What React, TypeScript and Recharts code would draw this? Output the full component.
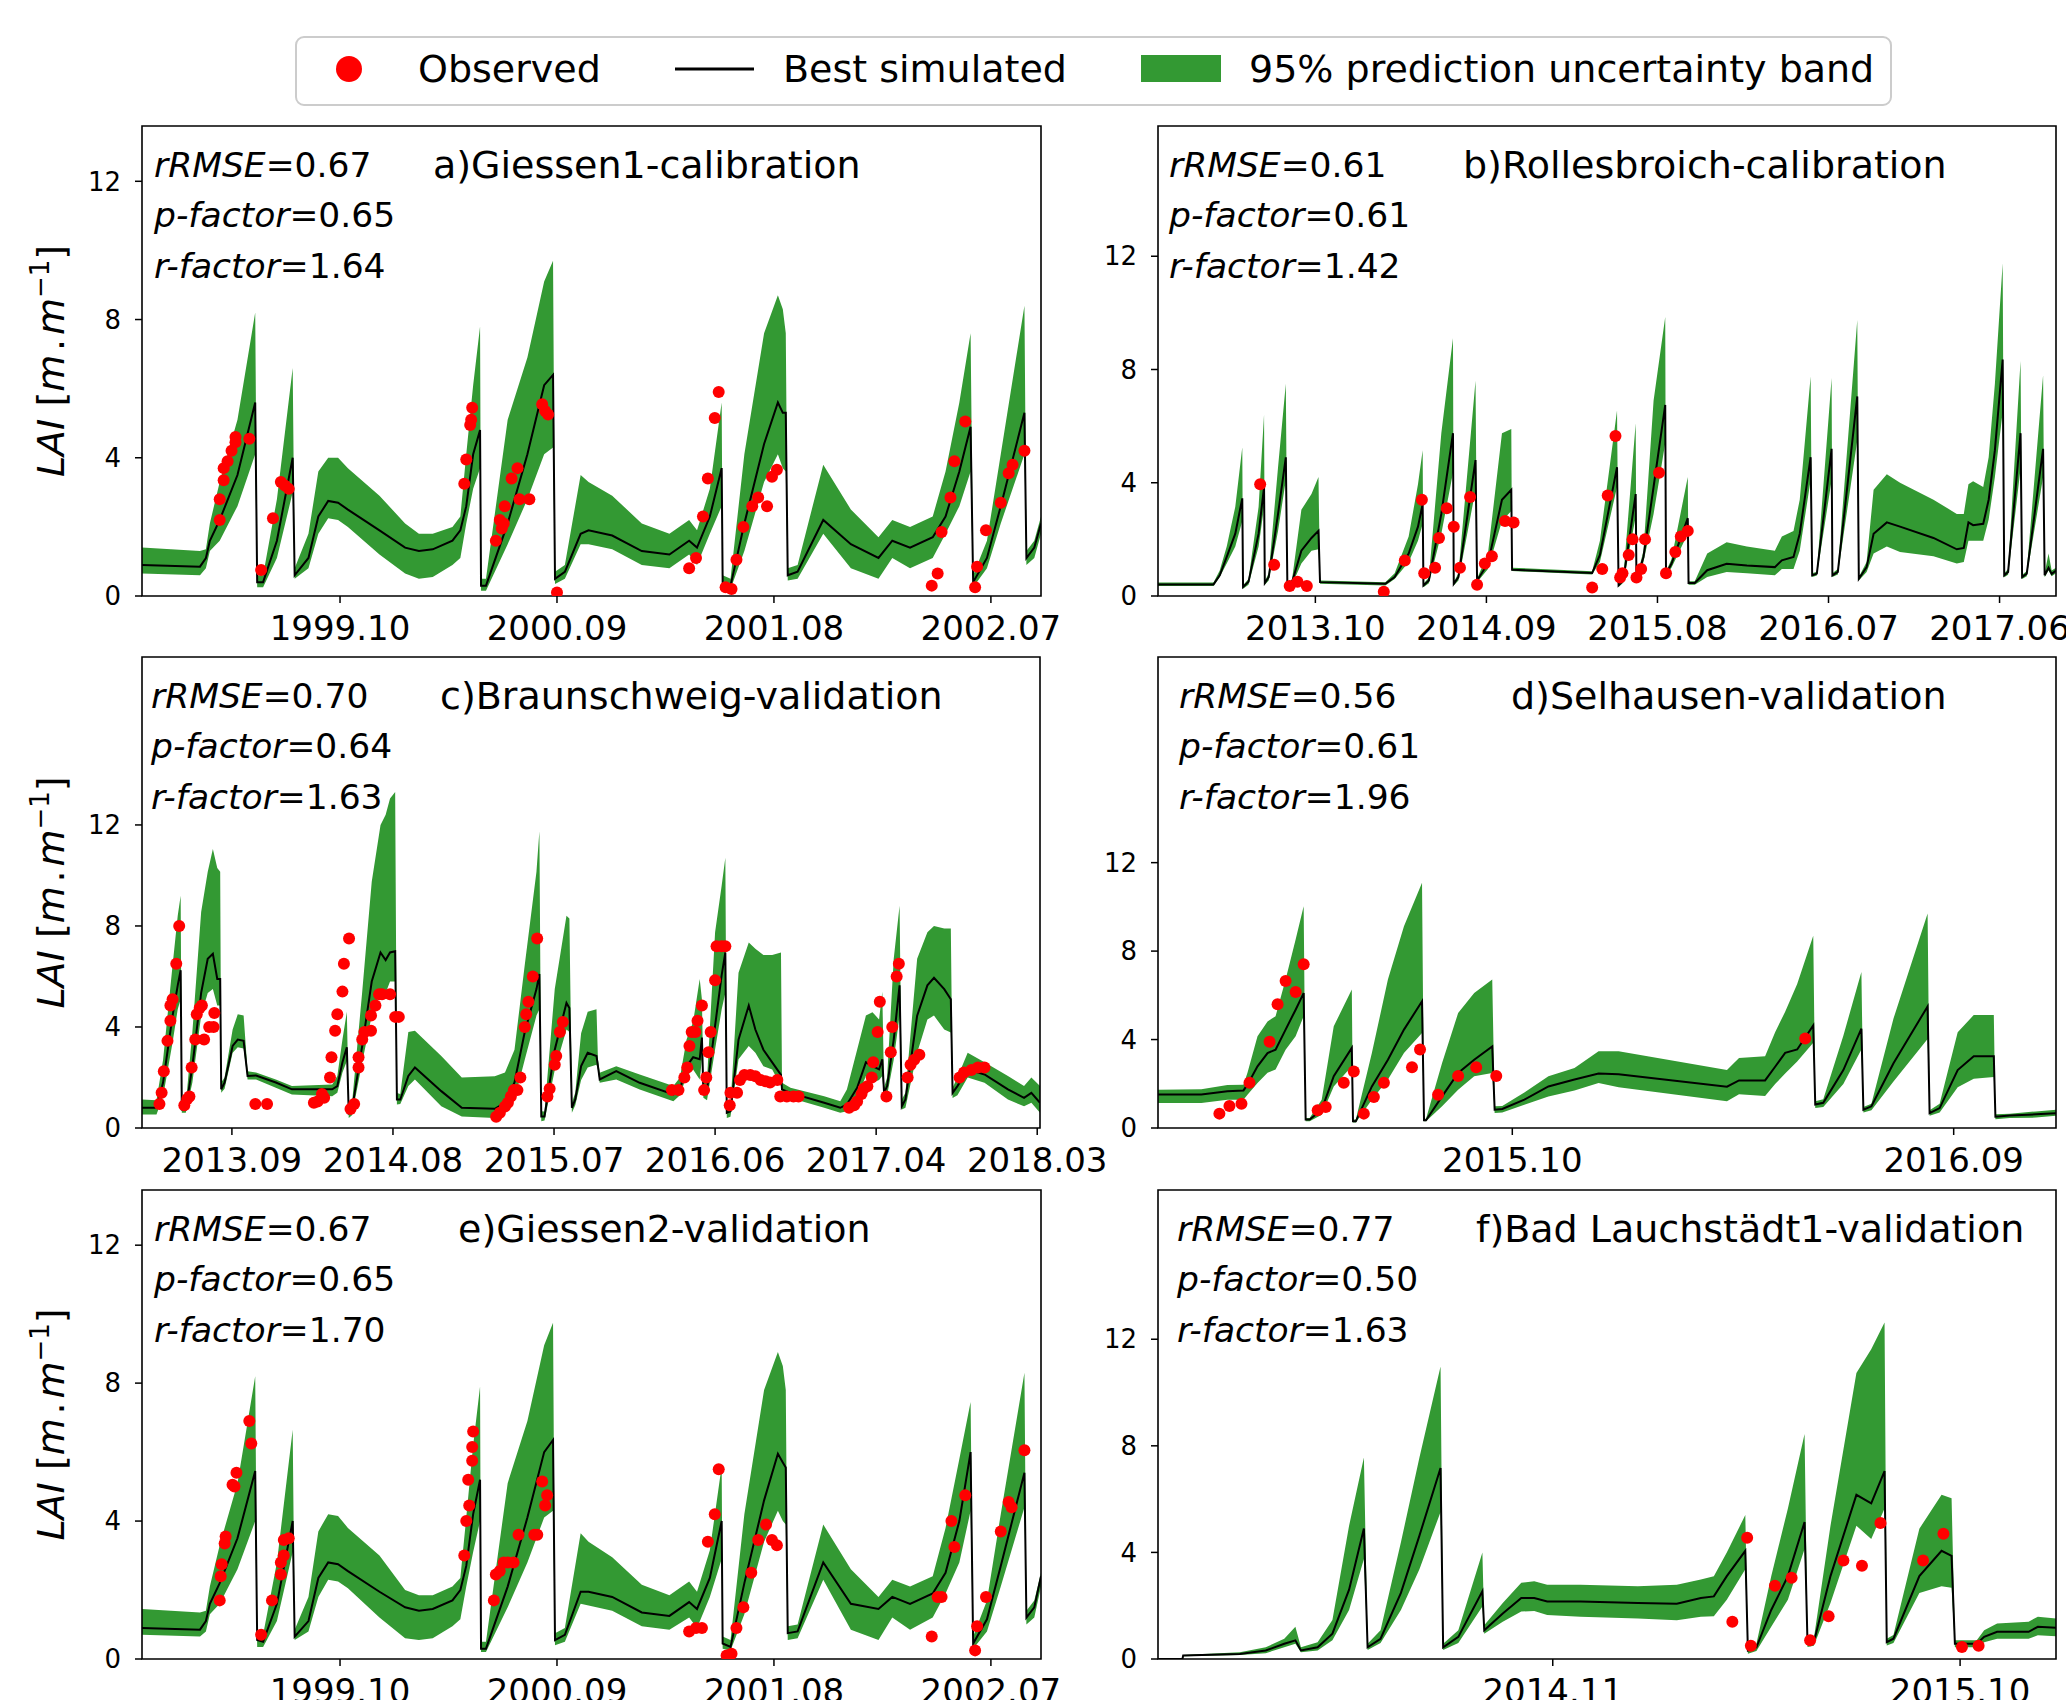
import React from "react";
import { ComposedChart, Area, Line, Scatter, XAxis, YAxis, ReferenceArea } from "recharts";

const FONT = "DejaVu Sans, Verdana, sans-serif";
const GREEN = "#339933";

// rows: [t (months since base), lower 95%, best simulated, upper 95%]
type Row = [number, number, number, number];
type Obs = [number, number];

// a) Giessen1 calibration, t = months since 1999-01
const simA: Row[] = [
  [-1.04, 0.65, 0.9, 1.4], [1.9, 0.6, 0.85, 1.3], [2.2, 0.8, 1.1, 1.35], [2.4, 1.3, 1.6, 2.1],
  [2.9, 1.6, 2.2, 3.3], [3.8, 2.6, 3.5, 5.1], [4.7, 4.1, 5.6, 8.2], [4.8, 0.25, 0.4, 0.6],
  [5.1, 0.25, 0.4, 0.6], [5.8, 1.1, 1.6, 2.8], [6.6, 3.0, 4.0, 6.6], [6.7, 0.5, 0.6, 0.8],
  [7.4, 0.8, 1.1, 1.8], [7.9, 1.8, 2.3, 3.6], [8.4, 2.25, 2.75, 4.0], [8.9, 2.2, 2.7, 4.0],
  [9.4, 2.0, 2.5, 3.7], [11.0, 1.2, 1.9, 2.9], [12.3, 0.65, 1.4, 2.1], [13.0, 0.5, 1.3, 1.8],
  [13.7, 0.55, 1.35, 1.8], [14.7, 0.9, 1.6, 2.0], [15.1, 1.1, 1.9, 2.3], [15.4, 2.1, 2.6, 4.1],
  [15.75, 3.1, 4.1, 6.1], [16.1, 3.7, 4.8, 7.8], [16.15, 0.15, 0.3, 0.5], [16.4, 0.15, 0.3, 0.5],
  [17.5, 1.5, 2.1, 5.1], [18.5, 2.8, 4.1, 6.9], [19.35, 4.1, 6.1, 9.1], [19.8, 4.3, 6.4, 9.7],
  [19.9, 0.35, 0.5, 0.7], [20.4, 0.5, 0.7, 0.9], [21.2, 1.5, 1.8, 3.5], [21.6, 1.5, 1.9, 3.3],
  [22.8, 1.35, 1.75, 2.9], [24.3, 0.9, 1.3, 2.1], [25.7, 0.8, 1.2, 1.8], [26.7, 1.2, 1.6, 2.2],
  [27.1, 0.9, 1.4, 1.9], [27.75, 1.8, 2.3, 3.1], [28.35, 2.6, 3.7, 5.6], [28.4, 0.2, 0.4, 0.6],
  [28.8, 0.2, 0.3, 0.5], [29.5, 1.3, 2.1, 4.1], [30.5, 3.3, 4.4, 7.6], [31.2, 4.1, 5.6, 8.7],
  [31.45, 3.7, 5.3, 8.3], [31.6, 3.6, 5.3, 7.6], [31.7, 0.45, 0.6, 0.8], [32.2, 0.5, 0.7, 0.9],
  [33.5, 1.8, 2.2, 3.8], [34.9, 0.8, 1.5, 2.5], [36.3, 0.5, 1.1, 1.7], [37.0, 1.1, 1.6, 2.2],
  [37.9, 0.8, 1.4, 2.0], [39.05, 1.1, 1.7, 2.3], [39.7, 1.8, 2.3, 3.6], [40.4, 2.6, 3.6, 5.6],
  [40.97, 3.6, 4.9, 7.6], [41.1, 0.25, 0.4, 0.6], [41.8, 0.8, 1.1, 1.6], [42.5, 2.1, 2.6, 4.1],
  [43.7, 4.1, 5.3, 8.4], [43.8, 0.9, 1.1, 1.3], [44.2, 1.1, 1.4, 1.6], [44.54, 1.8, 2.1, 2.3],
];
const obsA: Obs[] = [
  [2.9, 2.2], [2.9, 2.8], [3.1, 3.35], [3.1, 3.7], [3.3, 3.9], [3.5, 4.2], [3.7, 4.45], [3.7, 4.6],
  [4.4, 4.55], [5.0, 0.75], [5.6, 2.25], [6.0, 3.3], [6.2, 3.2], [6.4, 3.1],
  [15.3, 3.25], [15.4, 3.95], [15.6, 4.95], [15.65, 5.1], [15.7, 5.45], [16.9, 1.6], [17.1, 2.2],
  [17.2, 1.95], [17.3, 2.1], [17.35, 2.6], [17.7, 3.4], [18.0, 3.7], [18.1, 2.8], [18.6, 2.8],
  [19.25, 5.55], [19.4, 5.35], [19.55, 5.25], [20.0, 0.1],
  [26.7, 0.8], [27.05, 1.1], [27.4, 2.3], [27.65, 3.4], [28.0, 5.15], [28.2, 5.9], [28.55, 0.25],
  [28.85, 0.2], [29.1, 1.05], [29.45, 2.0], [29.9, 2.6], [30.2, 2.85], [30.65, 2.6], [30.9, 3.45], [31.15, 3.65],
  [39.0, 0.3], [39.3, 0.65], [39.5, 1.85], [39.95, 2.85], [40.15, 3.9], [40.7, 5.05], [41.2, 0.25],
  [41.3, 0.85], [41.75, 1.9], [42.5, 2.7], [42.9, 3.55], [43.1, 3.8], [43.7, 4.2],
];
const ticksA = [9, 20, 31, 42];
const labelsA = ["1999.10", "2000.09", "2001.08", "2002.07"];

// b) Rollesbroich calibration, t = months since 2013-01
const simB: Row[] = [
  [-1.12, 0.35, 0.41, 0.48], [2.45, 0.35, 0.41, 0.48], [2.85, 0.67, 0.73, 0.9], [3.3, 1.15, 1.38, 1.75],
  [3.85, 1.75, 2.2, 3.15], [4.3, 2.65, 3.45, 5.25], [4.35, 0.26, 0.32, 0.38], [4.7, 0.4, 0.5, 0.6],
  [5.35, 1.75, 2.2, 3.15], [5.7, 3.15, 3.85, 6.4], [5.75, 0.4, 0.46, 0.52], [6.0, 0.55, 0.67, 0.8],
  [6.6, 2.3, 2.9, 4.55], [7.1, 4.1, 4.9, 7.5], [7.2, 0.32, 0.38, 0.44], [7.5, 0.4, 0.49, 0.58],
  [8.1, 1.15, 1.6, 3.05], [8.75, 1.6, 2.05, 3.6], [9.2, 1.65, 2.3, 4.2], [9.3, 0.43, 0.49, 0.55],
  [13.5, 0.37, 0.43, 0.49], [14.1, 0.6, 0.67, 0.8], [15.0, 1.2, 1.5, 2.1], [15.6, 1.95, 2.45, 3.95],
  [15.9, 2.55, 3.25, 5.15], [15.95, 0.31, 0.37, 0.43], [16.3, 0.45, 0.55, 0.65], [17.1, 2.2, 2.9, 5.75],
  [17.85, 4.35, 5.75, 9.1], [17.9, 0.37, 0.43, 0.49], [18.2, 0.55, 0.67, 0.8], [19.3, 3.75, 4.8, 7.6],
  [19.4, 0.49, 0.55, 0.62], [20.1, 0.95, 1.15, 1.5], [21.0, 2.65, 3.4, 5.75], [21.6, 3.0, 3.75, 5.9],
  [21.65, 0.88, 0.93, 1.0], [26.8, 0.76, 0.81, 0.87], [27.3, 1.2, 1.45, 1.95], [28.4, 3.85, 4.55, 6.55],
  [28.5, 0.32, 0.38, 0.44], [28.8, 0.47, 0.55, 0.63], [29.6, 2.8, 3.6, 6.1], [29.65, 0.49, 0.55, 0.61],
  [30.1, 1.2, 1.38, 1.6], [30.75, 2.9, 3.85, 6.9], [31.5, 5.4, 6.75, 9.85], [31.55, 0.72, 0.79, 0.86],
  [31.9, 1.0, 1.14, 1.3], [32.95, 2.2, 2.75, 4.2], [33.0, 0.4, 0.46, 0.52], [33.4, 0.4, 0.46, 0.52],
  [34.2, 0.67, 0.91, 1.5], [35.45, 0.85, 1.14, 1.9], [36.75, 0.8, 1.08, 1.75], [38.55, 0.73, 1.02, 1.6],
  [39.0, 0.95, 1.26, 2.1], [39.75, 0.95, 1.38, 2.3], [40.15, 1.6, 2.2, 3.4], [40.85, 4.1, 4.9, 7.75],
  [40.95, 0.67, 0.73, 0.8], [41.25, 0.72, 0.79, 0.86], [42.2, 4.1, 5.2, 7.7], [42.25, 0.67, 0.73, 0.8],
  [42.6, 0.76, 0.85, 0.95], [43.85, 5.5, 7.05, 9.75], [43.95, 0.55, 0.61, 0.67], [44.45, 0.85, 1.02, 1.2],
  [44.9, 1.5, 2.2, 3.75], [45.75, 1.75, 2.6, 4.3], [46.6, 1.55, 2.45, 4.0], [48.75, 1.4, 2.05, 3.4],
  [50.25, 1.15, 1.65, 2.9], [50.7, 1.2, 1.7, 2.9], [51.0, 1.95, 2.6, 3.95], [51.3, 1.95, 2.5, 4.05],
  [51.95, 1.95, 2.55, 3.85], [52.3, 2.7, 3.4, 4.9], [52.7, 4.2, 5.15, 7.5], [53.2, 6.5, 8.35, 11.75],
  [53.3, 0.66, 0.73, 0.8], [53.55, 0.75, 0.85, 0.95], [54.35, 4.5, 5.75, 8.3], [54.45, 0.6, 0.67, 0.74],
  [54.75, 0.7, 0.79, 0.88], [55.8, 4.2, 5.2, 7.8], [55.9, 0.66, 0.73, 0.8], [56.15, 0.9, 1.0, 1.5],
  [56.35, 0.7, 0.78, 0.9], [56.63, 0.8, 0.9, 1.0],
];
const obsB: Obs[] = [
  [5.45, 3.95], [6.35, 1.1], [7.35, 0.35], [7.85, 0.5], [8.45, 0.35], [13.4, 0.15], [14.75, 1.25],
  [15.85, 3.4], [16.0, 0.8], [16.7, 1.0], [16.95, 2.05], [17.45, 3.1], [17.9, 2.45], [18.3, 1.0],
  [18.95, 3.5], [19.4, 0.4], [19.9, 1.15], [20.35, 1.4], [21.2, 2.65], [21.75, 2.6], [26.8, 0.3],
  [27.45, 0.95], [27.8, 3.55], [28.3, 5.65], [28.6, 0.65], [28.75, 0.8], [29.15, 1.45], [29.4, 2.0],
  [29.65, 0.65], [29.95, 0.95], [30.2, 2.0], [31.1, 4.35], [31.55, 0.8], [32.15, 1.55], [32.5, 2.1], [32.95, 2.3],
];
const ticksB = [9, 20, 31, 42, 53];
const labelsB = ["2013.10", "2014.09", "2015.08", "2016.07", "2017.06"];

// c) Braunschweig validation, t = months since 2013-01
const simC: Row[] = [
  [1.86, 0.53, 0.8, 1.13], [2.85, 0.53, 0.8, 1.1], [3.3, 1.25, 1.8, 2.7], [3.95, 3.4, 4.45, 6.45],
  [4.3, 4.7, 5.65, 8.4], [4.5, 5.1, 6.25, 9.2], [4.58, 0.6, 0.73, 0.93], [4.85, 0.6, 0.73, 0.93],
  [5.3, 1.8, 2.45, 3.8], [5.9, 4.45, 5.35, 8.55], [6.35, 5.35, 6.7, 10.15], [6.7, 5.5, 6.9, 11.05],
  [7.0, 4.85, 5.9, 10.3], [7.2, 4.85, 5.9, 10.15], [7.27, 1.4, 1.53, 1.8], [7.5, 1.55, 1.8, 2.0],
  [8.05, 2.98, 3.25, 3.9], [8.4, 3.2, 3.5, 4.5], [8.8, 3.15, 3.45, 4.45], [9.07, 1.92, 2.06, 2.25],
  [9.65, 1.92, 2.08, 2.2], [11.0, 1.59, 1.8, 1.92], [12.1, 1.33, 1.53, 1.66], [14.85, 1.26, 1.53, 1.72],
  [15.2, 1.4, 1.66, 2.06], [15.55, 2.2, 2.6, 3.5], [15.85, 2.65, 3.2, 4.6], [15.98, 0.4, 0.6, 0.8],
  [16.2, 0.5, 0.73, 0.95], [16.9, 2.6, 3.25, 5.4], [17.55, 4.45, 5.8, 9.75], [18.15, 5.5, 6.95, 12.0],
  [18.5, 5.35, 6.65, 12.4], [18.8, 5.8, 6.95, 13.05], [19.15, 5.8, 7.0, 13.3], [19.27, 0.93, 1.13, 1.39],
  [19.5, 0.95, 1.13, 1.35], [20.05, 1.66, 2.06, 3.8], [20.5, 1.92, 2.4, 3.85], [22.3, 0.86, 1.46, 2.85],
  [23.7, 0.46, 0.8, 2.0], [25.95, 0.4, 0.76, 2.05], [26.65, 0.6, 1.0, 2.2], [27.3, 1.12, 1.8, 3.1],
  [28.0, 2.7, 3.8, 6.45], [28.8, 4.45, 5.5, 10.15], [29.0, 4.7, 6.1, 11.75], [29.13, 0.27, 0.46, 0.66],
  [29.35, 0.3, 0.46, 0.65], [30.05, 2.3, 3.1, 5.5], [30.85, 3.9, 4.95, 8.4], [31.05, 3.8, 4.75, 8.3],
  [31.22, 0.6, 0.8, 1.0], [31.45, 0.9, 1.13, 1.4], [31.85, 1.9, 2.45, 3.75], [32.3, 2.4, 2.98, 4.6],
  [32.9, 2.5, 2.85, 4.7], [33.0, 2.3, 2.45, 2.7], [33.12, 1.79, 1.92, 2.19], [34.25, 1.92, 2.25, 2.45],
  [35.85, 1.52, 1.79, 2.12], [38.15, 1.06, 1.33, 1.66], [38.6, 1.3, 1.53, 2.0], [39.05, 2.06, 2.45, 3.5],
  [39.5, 2.32, 2.8, 4.2], [39.95, 1.92, 2.72, 5.9], [40.1, 2.72, 3.58, 5.1], [40.2, 1.2, 1.46, 1.8],
  [40.45, 1.1, 1.53, 1.92], [41.0, 3.12, 4.05, 7.75], [41.45, 4.7, 6.05, 9.6], [41.7, 5.35, 6.95, 10.7],
  [41.8, 0.4, 0.6, 0.8], [42.05, 0.45, 0.66, 0.9], [42.6, 2.72, 3.5, 6.15], [43.3, 3.25, 4.85, 7.35],
  [43.75, 2.98, 3.9, 7.1], [44.3, 2.45, 3.1, 6.85], [44.9, 2.32, 2.6, 6.85], [45.5, 1.66, 2.1, 6.95],
  [45.57, 1.33, 1.53, 1.79], [46.15, 1.19, 1.39, 1.59], [48.45, 0.8, 1.0, 1.26], [49.55, 0.6, 0.8, 1.06],
  [50.0, 0.66, 0.93, 1.52], [50.7, 1.19, 1.59, 3.1], [51.3, 2.06, 2.6, 4.45], [51.75, 1.79, 2.45, 4.58],
  [52.2, 1.9, 2.32, 4.3], [52.42, 2.06, 2.72, 5.4], [52.54, 1.2, 1.39, 1.6], [52.75, 1.3, 1.66, 2.0],
  [53.2, 2.7, 3.5, 6.7], [53.6, 4.45, 5.65, 8.8], [53.75, 0.73, 0.86, 1.13], [54.0, 0.8, 1.13, 1.4],
  [54.8, 2.98, 4.45, 6.7], [55.5, 4.3, 5.65, 7.75], [55.95, 4.45, 5.95, 8.0], [56.65, 3.9, 5.5, 7.9],
  [57.1, 3.78, 5.1, 7.9], [57.22, 1.19, 1.39, 1.59], [57.55, 1.3, 1.66, 2.0], [58.25, 2.0, 2.32, 2.98],
  [59.4, 1.79, 2.12, 2.6], [61.0, 1.13, 1.53, 2.06], [62.1, 0.86, 1.19, 1.66], [62.6, 1.0, 1.39, 2.0],
  [63.19, 0.6, 1.0, 1.66],
];
const obsC: Obs[] = [
  [3.05, 0.95], [3.2, 1.4], [3.35, 2.25], [3.6, 3.45], [3.8, 4.25], [3.8, 4.85], [3.95, 5.1], [4.2, 6.5],
  [4.4, 8.0], [4.75, 0.9], [4.95, 1.15], [5.1, 1.25], [5.25, 2.4], [5.5, 3.5], [5.6, 4.5], [5.8, 4.75],
  [5.95, 4.85], [6.1, 3.5], [6.45, 4.0], [6.75, 4.0], [6.8, 4.55], [9.6, 0.95], [10.4, 0.95],
  [13.6, 1.0], [13.85, 1.05], [14.15, 1.35], [14.3, 1.2], [14.7, 2.0], [14.8, 2.8], [15.05, 3.85],
  [15.2, 4.5], [15.55, 5.4], [15.65, 6.5], [16.0, 7.5], [16.1, 0.75], [16.35, 0.95], [16.65, 2.4],
  [16.65, 2.8], [16.9, 3.5], [17.05, 3.8], [17.5, 3.85], [17.5, 4.45], [17.8, 4.85], [18.05, 5.3],
  [18.25, 5.3], [18.8, 5.3], [19.15, 4.4], [19.4, 4.4],
  [26.05, 0.45], [26.3, 0.6], [26.65, 0.85], [26.85, 1.0], [27.05, 1.25], [27.25, 1.5], [27.5, 1.5],
  [27.7, 2.0], [28.0, 4.0], [28.1, 4.5], [28.25, 5.0], [28.55, 6.0], [28.85, 7.5], [29.55, 1.25],
  [29.7, 1.55], [30.05, 2.5], [30.15, 2.85], [30.4, 3.8], [30.6, 4.2],
  [38.05, 1.5], [38.5, 1.5], [38.9, 2.0], [39.1, 2.4], [39.25, 3.25], [39.4, 3.8], [39.65, 3.8],
  [39.8, 4.25], [40.1, 4.85], [40.25, 1.5], [40.4, 2.0], [40.55, 3.0], [40.7, 3.8], [41.0, 5.85],
  [41.1, 7.2], [41.45, 7.2], [41.7, 7.2], [42.0, 0.9], [42.05, 1.4], [42.5, 1.4], [42.7, 1.9],
  [43.0, 2.1], [43.4, 2.1], [43.75, 2.05], [44.1, 1.9], [44.45, 1.85], [44.75, 1.8], [45.25, 1.9],
  [45.45, 1.25], [45.9, 1.25], [46.35, 1.25], [46.7, 1.25],
  [50.15, 0.8], [50.5, 0.9], [50.7, 1.05], [51.0, 1.35], [51.15, 1.55], [51.4, 1.65], [51.7, 2.0],
  [51.8, 2.6], [52.1, 3.8], [52.25, 5.0], [52.7, 1.25], [53.0, 3.0], [53.1, 4.0], [53.4, 6.0],
  [53.55, 6.5], [54.15, 2.0], [54.35, 2.5], [54.6, 2.7], [54.95, 2.9], [57.7, 2.0], [58.0, 2.2],
  [58.5, 2.3], [58.95, 2.4], [59.4, 2.4],
];
const ticksC = [8, 19, 30, 41, 52, 63];
const labelsC = ["2013.09", "2014.08", "2015.07", "2016.06", "2017.04", "2018.03"];

// d) Selhausen validation, t = months since 2015-01
const simD: Row[] = [
  [0.17, 1.13, 1.51, 1.73], [1.25, 1.13, 1.51, 1.75], [1.9, 1.28, 1.66, 1.95], [2.3, 1.28, 1.7, 1.96],
  [2.4, 1.5, 1.96, 2.5], [2.65, 2.04, 2.79, 4.15], [2.9, 2.5, 3.39, 4.82], [3.1, 2.64, 3.54, 5.05],
  [3.35, 3.54, 4.45, 6.71], [3.6, 4.15, 5.35, 8.52], [3.8, 5.05, 6.1, 10.03], [3.85, 0.3, 0.38, 0.45],
  [3.95, 0.3, 0.38, 0.45], [4.25, 0.6, 0.83, 1.28], [4.55, 1.88, 2.34, 4.6], [5.0, 2.79, 3.62, 6.26],
  [5.03, 0.25, 0.3, 0.38], [5.1, 0.25, 0.3, 0.38], [5.5, 1.28, 1.88, 3.39], [5.9, 2.19, 3.09, 6.71],
  [6.3, 3.39, 4.45, 9.12], [6.75, 4.3, 5.73, 11.09], [6.8, 0.3, 0.35, 0.42], [6.85, 0.3, 0.35, 0.42],
  [7.25, 0.98, 1.43, 2.94], [7.65, 1.73, 2.49, 5.2], [8.05, 2.34, 3.09, 6.11], [8.5, 2.49, 3.69, 6.71],
  [8.56, 0.68, 0.83, 0.98], [8.75, 0.7, 0.86, 1.0], [9.3, 1.05, 1.28, 1.6], [9.9, 1.43, 1.88, 2.34],
  [10.55, 1.7, 2.19, 2.71], [11.15, 2.03, 2.46, 3.47], [11.65, 1.84, 2.43, 3.47], [14.35, 1.21, 1.87, 2.62],
  [14.65, 1.53, 2.15, 3.16], [15.3, 1.45, 2.15, 3.24], [15.55, 1.99, 2.77, 4.33], [15.8, 2.46, 3.4, 5.26],
  [16.1, 3.01, 3.55, 6.51], [16.5, 3.86, 4.64, 8.69], [16.55, 0.9, 1.06, 1.21], [16.75, 0.95, 1.14, 1.3],
  [17.25, 1.99, 2.62, 4.17], [17.7, 3.55, 4.49, 7.06], [17.75, 0.7, 0.83, 0.95], [17.95, 0.8, 0.98, 1.1],
  [18.5, 2.1, 2.93, 4.95], [19.35, 4.02, 5.5, 9.7], [19.4, 0.55, 0.67, 0.8], [19.65, 0.7, 0.9, 1.1],
  [20.1, 1.84, 2.62, 4.33], [20.5, 2.23, 3.24, 5.11], [21.0, 2.31, 3.24, 5.11], [21.04, 0.4, 0.51, 0.62],
  [21.4, 0.45, 0.56, 0.65], [22.05, 0.47, 0.62, 0.75], [22.55, 0.55, 0.67, 0.83],
];
const obsD: Obs[] = [
  [1.7, 0.65], [1.95, 1.0], [2.25, 1.1], [2.45, 2.05], [2.95, 3.9], [3.15, 5.6], [3.35, 6.65],
  [3.6, 6.15], [3.8, 7.4], [4.15, 0.8], [4.35, 0.95], [4.8, 2.05], [5.05, 2.55], [5.3, 0.65],
  [5.55, 1.4], [5.8, 2.05], [6.5, 2.75], [6.7, 3.55], [7.15, 1.5], [7.65, 2.35], [8.1, 2.75],
  [8.6, 2.35], [16.3, 4.05],
];
const ticksD = [9, 20];
const labelsD = ["2015.10", "2016.09"];

// e) Giessen2 validation, t = months since 1999-01
const simE: Row[] = [
  [-1.04, 0.7, 0.9, 1.45], [1.9, 0.65, 0.85, 1.35], [2.2, 0.8, 1.1, 1.4], [2.4, 1.3, 1.6, 2.1],
  [2.9, 1.6, 2.2, 3.3], [3.8, 2.6, 3.5, 5.1], [4.7, 4.0, 5.45, 8.2], [4.8, 0.35, 0.55, 0.7],
  [5.1, 0.35, 0.5, 0.7], [5.8, 1.1, 1.6, 2.8], [6.6, 3.1, 4.0, 6.65], [6.7, 0.55, 0.65, 0.85],
  [7.4, 0.8, 1.1, 1.8], [7.9, 1.8, 2.35, 3.7], [8.4, 2.3, 2.8, 4.2], [8.9, 2.25, 2.75, 4.15],
  [9.4, 2.05, 2.55, 3.8], [11.0, 1.2, 1.95, 3.0], [12.3, 0.6, 1.5, 2.0], [13.0, 0.55, 1.4, 1.85],
  [13.7, 0.6, 1.45, 1.85], [14.7, 0.95, 1.7, 2.1], [15.1, 1.15, 2.0, 2.35], [15.4, 2.1, 2.7, 4.1],
  [15.75, 3.1, 4.2, 6.2], [16.1, 4.0, 5.2, 7.9], [16.15, 0.2, 0.3, 0.5], [16.4, 0.2, 0.3, 0.5],
  [17.5, 1.5, 2.1, 5.1], [18.5, 2.8, 4.1, 6.9], [19.35, 4.1, 6.0, 9.1], [19.8, 4.3, 6.35, 9.75],
  [19.9, 0.4, 0.55, 0.75], [20.4, 0.5, 0.7, 0.9], [21.2, 1.6, 1.95, 3.65], [21.6, 1.55, 1.95, 3.4],
  [22.8, 1.4, 1.8, 2.95], [24.3, 0.95, 1.35, 2.15], [25.7, 0.85, 1.25, 1.85], [26.7, 1.2, 1.65, 2.25],
  [27.1, 0.9, 1.45, 1.95], [27.75, 1.8, 2.35, 3.15], [28.35, 2.9, 4.0, 5.6], [28.4, 0.3, 0.45, 0.65],
  [28.8, 0.25, 0.35, 0.55], [29.5, 1.3, 2.2, 4.2], [30.5, 3.4, 4.6, 7.8], [31.2, 4.3, 5.95, 8.9],
  [31.45, 4.0, 5.7, 8.5], [31.6, 3.9, 5.55, 7.8], [31.7, 0.55, 0.75, 0.95], [32.2, 0.6, 0.8, 1.0],
  [33.5, 2.3, 2.8, 3.9], [34.9, 0.85, 1.6, 2.6], [36.3, 0.55, 1.45, 1.8], [37.0, 1.2, 1.8, 2.3],
  [37.9, 0.85, 1.6, 2.1], [39.05, 1.2, 1.9, 2.4], [39.7, 1.9, 2.5, 3.8], [40.4, 2.8, 4.0, 5.8],
  [40.97, 4.3, 6.0, 7.45], [41.1, 0.3, 0.45, 0.65], [41.8, 0.8, 1.15, 1.7], [42.5, 2.1, 2.7, 4.2],
  [43.7, 4.4, 5.4, 8.3], [43.8, 1.0, 1.2, 1.4], [44.2, 1.2, 1.5, 1.7], [44.54, 2.1, 2.4, 2.5],
];
const obsE: Obs[] = [
  [2.9, 1.7], [2.95, 2.4], [3.0, 2.75], [3.15, 3.35], [3.2, 3.55], [3.55, 5.05], [3.65, 5.0], [3.75, 5.4],
  [4.4, 6.9], [4.5, 6.25], [5.0, 0.7], [5.55, 1.7], [6.0, 2.45], [6.0, 2.8], [6.15, 3.0], [6.15, 3.45], [6.4, 3.5],
  [15.3, 3.0], [15.4, 4.0], [15.55, 4.45], [15.5, 5.2], [15.7, 5.75], [15.7, 6.15], [15.75, 6.6],
  [16.8, 1.7], [16.9, 2.45], [17.1, 2.55], [17.3, 2.8], [17.5, 2.8], [17.8, 2.8], [18.05, 3.6],
  [18.85, 3.6], [19.0, 3.6], [19.25, 5.15], [19.4, 4.45], [19.5, 4.75],
  [26.7, 0.8], [27.05, 0.9], [27.35, 0.9], [27.65, 3.4], [28.0, 4.2], [28.2, 5.5], [28.6, 0.1],
  [28.85, 0.15], [29.1, 0.9], [29.45, 1.5], [29.85, 2.5], [30.2, 3.45], [30.6, 3.9], [30.9, 3.45], [31.15, 3.3],
  [39.0, 0.65], [39.3, 1.8], [39.5, 1.8], [40.0, 4.0], [40.15, 3.25], [40.7, 4.75], [41.2, 0.25],
  [41.3, 0.95], [41.75, 1.8], [42.5, 3.7], [42.9, 4.55], [43.05, 4.4], [43.7, 6.05],
];

// f) Bad Lauchstädt1 validation, t = months since 2014-01
const simF: Row[] = [
  [-0.66, 0, 0, 0], [0.0, 0, 0, 0], [0.02, 0.1, 0.13, 0.15], [1.55, 0.15, 0.19, 0.25],
  [2.25, 0.22, 0.32, 0.44], [2.75, 0.44, 0.57, 0.76], [3.05, 0.57, 0.7, 1.21], [3.2, 0.25, 0.32, 0.44],
  [3.65, 0.32, 0.44, 0.63], [4.05, 0.7, 0.95, 1.46], [4.5, 1.84, 2.6, 5.0], [4.9, 3.75, 4.9, 7.56],
  [5.0, 0.34, 0.44, 0.57], [5.35, 0.6, 0.76, 1.08], [5.9, 1.84, 2.48, 4.38], [6.4, 3.37, 4.63, 7.56],
  [6.97, 5.52, 7.17, 10.98], [7.04, 0.34, 0.44, 0.57], [7.45, 0.6, 0.83, 1.08], [8.1, 1.97, 2.54, 4.0],
  [8.15, 0.95, 1.08, 1.27], [8.65, 1.4, 1.71, 2.1], [9.15, 1.78, 2.29, 2.86], [9.5, 1.8, 2.29, 2.92],
  [9.85, 1.65, 2.16, 2.79], [10.75, 1.59, 2.16, 2.79], [12.3, 1.52, 2.1, 2.73], [13.35, 1.45, 2.07, 2.79],
  [14.0, 1.59, 2.29, 2.98], [14.35, 1.6, 2.35, 3.11], [14.7, 2.22, 3.11, 4.0], [15.2, 3.37, 4.06, 5.4],
  [15.27, 0.2, 0.32, 0.44], [15.5, 0.3, 0.44, 0.57], [15.9, 1.21, 1.84, 3.11], [16.35, 2.22, 3.11, 5.65],
  [16.8, 4.13, 5.14, 8.44], [16.88, 0.45, 0.57, 0.7], [17.05, 0.5, 0.63, 0.76], [17.5, 2.1, 3.11, 5.0],
  [18.2, 5.0, 6.16, 10.73], [18.6, 4.5, 5.84, 11.62], [18.96, 5.65, 7.05, 12.63], [19.02, 0.51, 0.63, 0.76],
  [19.2, 0.6, 0.76, 0.9], [19.9, 2.48, 3.11, 4.89], [20.5, 2.73, 4.06, 6.16], [20.77, 2.67, 3.87, 6.03],
  [20.86, 0.44, 0.57, 0.7], [21.45, 0.44, 0.57, 0.7], [21.65, 0.63, 0.83, 1.08], [22.0, 0.76, 1.02, 1.33],
  [22.85, 0.76, 1.02, 1.4], [23.1, 0.89, 1.21, 1.59], [23.59, 0.85, 1.17, 1.52],
];
const obsF: Obs[] = [
  [14.85, 1.4], [15.25, 4.55], [15.35, 0.5], [16.0, 2.75], [16.45, 3.05], [16.95, 0.7], [17.45, 1.6],
  [17.85, 3.7], [18.35, 3.5], [18.85, 5.1], [20.0, 3.7], [20.55, 4.7], [21.05, 0.45], [21.5, 0.5],
];
const ticksF = [10, 21];
const labelsF = ["2014.11", "2015.10"];

const yTicks = [0, 4, 8, 12];

type PanelCfg = {
  left: number; top: number; w: number; h: number;
  sim: Row[]; obs: Obs[]; xDomain: [number, number]; yMax: number;
  ticks: number[]; labels: string[];
  title: string; stats: [string, string][]; statX: number; titleX: number; yLabel: boolean;
};

const panels: PanelCfg[] = [
  { left: 142, top: 126, w: 899, h: 470, sim: simA, obs: obsA, xDomain: [-1.04, 44.54], yMax: 13.6,
    ticks: ticksA, labels: labelsA, title: "a)Giessen1-calibration",
    stats: [["rRMSE", "0.67"], ["p-factor", "0.65"], ["r-factor", "1.64"]], statX: 154, titleX: 433, yLabel: true },
  { left: 1158, top: 126, w: 898, h: 470, sim: simB, obs: obsB, xDomain: [-1.12, 56.63], yMax: 16.6,
    ticks: ticksB, labels: labelsB, title: "b)Rollesbroich-calibration",
    stats: [["rRMSE", "0.61"], ["p-factor", "0.61"], ["r-factor", "1.42"]], statX: 1169, titleX: 1463, yLabel: false },
  { left: 142, top: 657, w: 898, h: 471, sim: simC, obs: obsC, xDomain: [1.86, 63.19], yMax: 18.65,
    ticks: ticksC, labels: labelsC, title: "c)Braunschweig-validation",
    stats: [["rRMSE", "0.70"], ["p-factor", "0.64"], ["r-factor", "1.63"]], statX: 151, titleX: 440, yLabel: true },
  { left: 1158, top: 657, w: 898, h: 471, sim: simD, obs: obsD, xDomain: [0.17, 22.55], yMax: 21.3,
    ticks: ticksD, labels: labelsD, title: "d)Selhausen-validation",
    stats: [["rRMSE", "0.56"], ["p-factor", "0.61"], ["r-factor", "1.96"]], statX: 1179, titleX: 1511, yLabel: false },
  { left: 142, top: 1190, w: 899, h: 469, sim: simE, obs: obsE, xDomain: [-1.04, 44.54], yMax: 13.6,
    ticks: ticksA, labels: labelsA, title: "e)Giessen2-validation",
    stats: [["rRMSE", "0.67"], ["p-factor", "0.65"], ["r-factor", "1.70"]], statX: 154, titleX: 458, yLabel: true },
  { left: 1158, top: 1190, w: 898, h: 469, sim: simF, obs: obsF, xDomain: [-0.66, 23.59], yMax: 17.6,
    ticks: ticksF, labels: labelsF, title: "f)Bad Lauchstädt1-validation",
    stats: [["rRMSE", "0.77"], ["p-factor", "0.50"], ["r-factor", "1.63"]], statX: 1177, titleX: 1476, yLabel: false },
];

const PAD_L = 100, PAD_T = 10, PAD_R = 100, PAD_B = 70;

const Dot = (props: any) => <circle cx={props.cx} cy={props.cy} r={6} fill="#ff0000" />;

function Panel({ p }: { p: PanelCfg }) {
  const data = p.sim.map(([t, lo, best, hi]) => ({ t, band: [lo, hi], best }));
  const pts = p.obs.map(([t, v]) => ({ t, obs: v }));
  return (
    <div style={{ position: "absolute", left: p.left - PAD_L, top: p.top - PAD_T }}>
      <ComposedChart
        width={p.w + PAD_L + PAD_R}
        height={p.h + PAD_T + PAD_B}
        data={data}
        margin={{ top: PAD_T, right: PAD_R, bottom: 0, left: 0 }}
      >
        <XAxis
          dataKey="t"
          type="number"
          domain={p.xDomain}
          allowDataOverflow
          ticks={p.ticks}
          interval={0}
          height={PAD_B}
          tickSize={7}
          tickMargin={13}
          axisLine={false}
          tickLine={{ stroke: "#000", strokeWidth: 1.5 }}
          tick={{ fill: "#000", fontSize: 34, fontFamily: FONT }}
          tickFormatter={(v: number) => p.labels[p.ticks.indexOf(v)] ?? ""}
        />
        <YAxis
          type="number"
          domain={[0, p.yMax]}
          allowDataOverflow
          ticks={yTicks}
          interval={0}
          width={PAD_L}
          tickSize={7}
          tickMargin={14}
          axisLine={false}
          tickLine={{ stroke: "#000", strokeWidth: 1.5 }}
          tick={{ fill: "#000", fontSize: 26, fontFamily: FONT }}
        />
        <Area
          type="linear"
          dataKey="band"
          fill={GREEN}
          fillOpacity={1}
          stroke="none"
          dot={false}
          activeDot={false}
          isAnimationActive={false}
        />
        <Line
          type="linear"
          dataKey="best"
          stroke="#000"
          strokeWidth={2}
          dot={false}
          activeDot={false}
          isAnimationActive={false}
        />
        <Scatter data={pts} dataKey="obs" shape={Dot} isAnimationActive={false} />
        <ReferenceArea
          x1={p.xDomain[0]}
          x2={p.xDomain[1]}
          y1={0}
          y2={p.yMax}
          fill="none"
          fillOpacity={0}
          stroke="#000"
          strokeWidth={1.6}
        />
      </ComposedChart>
    </div>
  );
}

function Overlay() {
  return (
    <svg
      width={2066}
      height={1700}
      style={{ position: "absolute", left: 0, top: 0, pointerEvents: "none" }}
      fontFamily={FONT}
    >
      {/* legend */}
      <rect x={296} y={37} width={1595} height={68} rx={8} fill="#fff" fillOpacity={0.8} stroke="#cccccc" strokeWidth={2} />
      <circle cx={349} cy={69} r={13} fill="#ff0000" />
      <text x={418} y={82} fontSize={38} fill="#000">Observed</text>
      <line x1={675} y1={69} x2={754} y2={69} stroke="#000" strokeWidth={3} />
      <text x={783} y={82} fontSize={38} fill="#000">Best simulated</text>
      <rect x={1141} y={55} width={80} height={27} fill={GREEN} />
      <text x={1249} y={82} fontSize={38} fill="#000">95% prediction uncertainty band</text>

      {panels.map((p, i) => (
        <g key={i}>
          {p.stats.map(([name, val], j) => (
            <text key={j} x={p.statX} y={p.top + 50.6 + j * 50.5} fontSize={34.5} fill="#000">
              <tspan fontStyle="italic">{name}</tspan>={val}
            </text>
          ))}
          <text x={p.titleX} y={p.top + 51.9} fontSize={38} fill="#000">{p.title}</text>
          {p.yLabel && (
            <text
              x={64}
              y={p.top + p.h / 2}
              fontSize={38}
              fill="#000"
              textAnchor="middle"
              transform={`rotate(-90, 64, ${p.top + p.h / 2})`}
            >
              <tspan fontStyle="italic">LAI</tspan>
              <tspan> [</tspan>
              <tspan fontStyle="italic">m</tspan>
              <tspan>{"\u200A.\u200A"}</tspan>
              <tspan fontStyle="italic">m</tspan>
              <tspan fontSize={26} dy={-15}>−1</tspan>
              <tspan dy={15}>]</tspan>
            </text>
          )}
        </g>
      ))}
    </svg>
  );
}

export default function App() {
  return (
    <div
      style={{
        position: "absolute",
        left: 0,
        top: 0,
        width: 2066,
        height: 1700,
        background: "#fff",
        overflow: "hidden",
        fontFamily: FONT,
      }}
    >
      {panels.map((p, i) => (
        <Panel key={i} p={p} />
      ))}
      <Overlay />
    </div>
  );
}
